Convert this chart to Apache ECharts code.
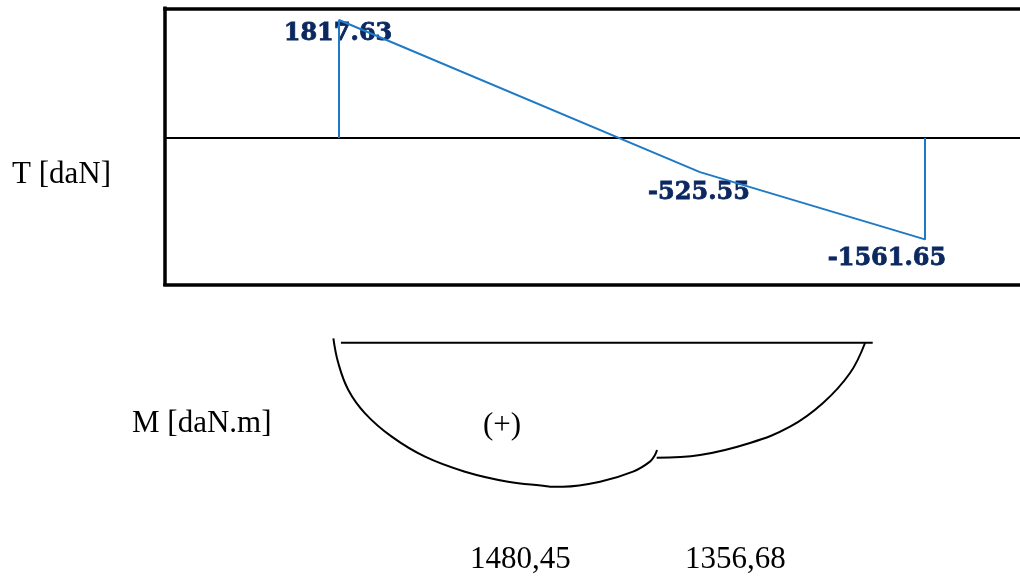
<!DOCTYPE html>
<html>
<head>
<meta charset="utf-8">
<script src="https://cdn.jsdelivr.net/npm/echarts@6/dist/echarts.min.js"></script>
<style>html,body{margin:0;padding:0;background:#fff}#c{width:1020px;height:579px}</style>
</head>
<body>
<div id="c"></div>
<script>
// Shear force T [daN] along beam (x in m)
var tX = [0, 0, 3.327, 5.401, 5.401];
var tVal = [0, 1817.63, -525.55, -1561.65, 0];
var tLabelIdx = [1, 2, 3];
// Bending moment M [daN.m]
var mLeftX = [-0.052, -0.006, 0.086, 0.240, 0.486, 0.793, 1.161, 1.558, 1.899, 1.945, 2.065, 2.406, 2.710, 2.866, 2.912, 2.931];
var mLeftVal = [-45, 212, 486, 726, 966, 1172, 1326, 1429, 1473, 1480.45, 1480, 1429, 1326, 1223, 1155, 1103];
var mRightX = [2.928, 3.327, 3.788, 4.157, 4.461, 4.710, 4.848];
var mRightVal = [1182, 1155, 1031, 864, 620, 312, 3];
var mBaseX = [0.018, 4.919];
var mBaseVal = [0, 0];
var mValueLabels = ['1480,45', '1356,68'];
var axisTitles = ['T [daN]', 'M [daN.m]'];
var signLabel = '(+)';

function pairs(xs, ys) { return xs.map(function (x, i) { return [x, ys[i]]; }); }

var chart = echarts.init(document.getElementById('c'), null, { renderer: 'canvas' });
var xMin = -1.6037, xMax = 6.2765;
var labelOffsets = { 1: [-1, 14], 2: [-1, 21], 3: [-38, 19] };
var labelData = tLabelIdx.map(function (i) {
  return {
    value: [tX[i], tVal[i]],
    label: { offset: labelOffsets[i] }
  };
});
var serifText = { fontFamily: 'Liberation Serif', fontSize: 31, fill: '#000' };
var boxLine = { show: true, onZero: false, lineStyle: { color: '#000', width: 3.5, cap: 'square' } };

chart.setOption({
  animation: false,
  backgroundColor: '#fff',
  grid: [
    { left: 165, right: 0, top: 8.3, height: 276, show: false },
    { left: 165, right: 0, top: 300, height: 250, show: false }
  ],
  xAxis: [
    { gridIndex: 0, type: 'value', position: 'bottom', min: xMin, max: xMax, axisLine: boxLine, axisTick: { show: false }, axisLabel: { show: false }, splitLine: { show: false } },
    { gridIndex: 0, type: 'value', position: 'top', min: xMin, max: xMax, axisLine: boxLine, axisTick: { show: false }, axisLabel: { show: false }, splitLine: { show: false } },
    { gridIndex: 1, type: 'value', min: xMin, max: xMax, show: false, splitLine: { show: false } }
  ],
  yAxis: [
    { gridIndex: 0, type: 'value', position: 'left', min: -2253.5, max: 1997.8, axisLine: boxLine, axisTick: { show: false }, axisLabel: { show: false }, splitLine: { show: false } },
    { gridIndex: 1, type: 'value', min: -439, max: 2131.2, inverse: true, show: false, splitLine: { show: false } }
  ],
  series: [
    {
      type: 'line', xAxisIndex: 0, yAxisIndex: 0, data: pairs(tX, tVal),
      showSymbol: false, lineStyle: { color: '#1f7ac6', width: 2 }, z: 6,
      markLine: {
        silent: true, symbol: 'none', label: { show: false },
        lineStyle: { color: '#000', width: 2, type: 'solid' },
        data: [{ yAxis: 0 }]
      }
    },
    {
      type: 'scatter', xAxisIndex: 0, yAxisIndex: 0, data: labelData,
      symbolSize: 0, itemStyle: { opacity: 1 },
      label: {
        show: true, position: 'inside', align: 'center', verticalAlign: 'middle',
        formatter: function (p) { return p.value[1].toFixed(2); },
        fontFamily: 'DejaVu Serif', fontWeight: 'bold', fontSize: 24, color: '#0c2860',
        textBorderColor: '#0c2860', textBorderWidth: 0.8, opacity: 1
      }, z: 5
    },
    {
      type: 'line', xAxisIndex: 2, yAxisIndex: 1, data: pairs(mBaseX, mBaseVal),
      showSymbol: false, lineStyle: { color: '#000', width: 2 }
    },
    {
      type: 'line', xAxisIndex: 2, yAxisIndex: 1, data: pairs(mLeftX, mLeftVal),
      showSymbol: false, smooth: 0.4, lineStyle: { color: '#000', width: 2 }
    },
    {
      type: 'line', xAxisIndex: 2, yAxisIndex: 1, data: pairs(mRightX, mRightVal),
      showSymbol: false, smooth: 0.4, lineStyle: { color: '#000', width: 2 }
    }
  ],
  graphic: [
    { type: 'text', left: 12, top: 159, style: Object.assign({ text: axisTitles[0] }, serifText) },
    { type: 'text', left: 132, top: 408, style: Object.assign({ text: axisTitles[1] }, serifText) },
    { type: 'text', left: 483, top: 410, style: Object.assign({ text: signLabel }, serifText) },
    { type: 'text', left: 470, top: 544, style: Object.assign({ text: mValueLabels[0] }, serifText) },
    { type: 'text', left: 685, top: 544, style: Object.assign({ text: mValueLabels[1] }, serifText) }
  ]
});
</script>
</body>
</html>
